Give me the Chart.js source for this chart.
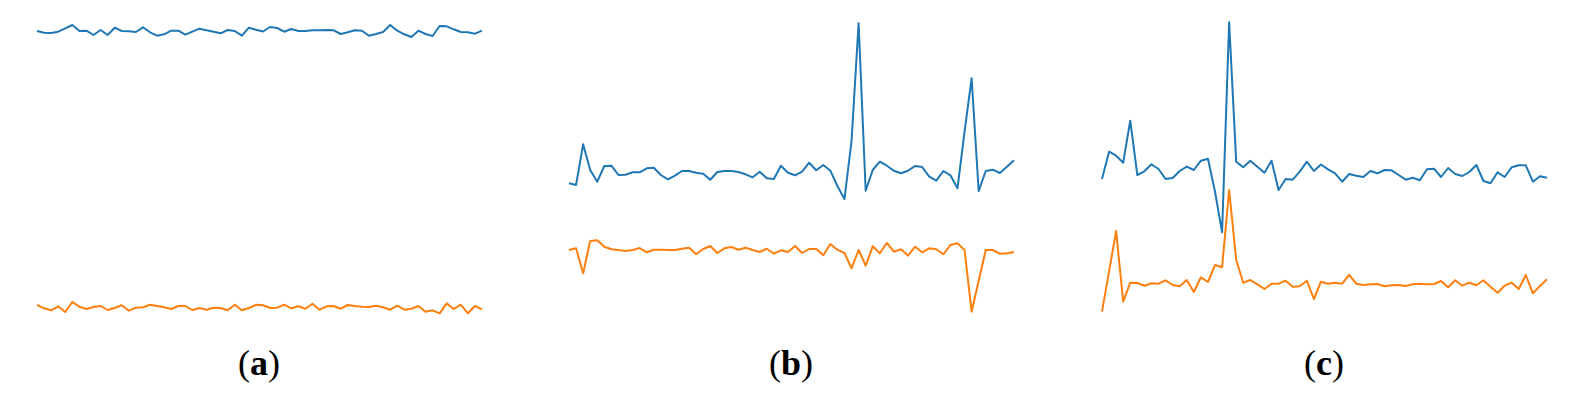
<!DOCTYPE html>
<html>
<head>
<meta charset="utf-8">
<script src="https://cdn.jsdelivr.net/npm/chart.js@4"></script>
<style>
  html, body { margin: 0; padding: 0; background: #fff; }
  body { width: 1579px; height: 407px; position: relative; overflow: hidden; }
  canvas { position: absolute; top: 0; }
  .cap {
    position: absolute;
    top: 345px;
    width: 200px;
    text-align: center;
    font-family: "Liberation Serif", "DejaVu Serif", serif;
    font-size: 36px;
    line-height: 36px;
    color: #000;
  }
  .cap b { font-weight: bold; }
</style>
</head>
<body>
<canvas id="chartA" width="465" height="340" style="left:27px"></canvas>
<canvas id="chartB" width="465" height="340" style="left:559px"></canvas>
<canvas id="chartC" width="465" height="340" style="left:1092px"></canvas>
<div class="cap" style="left:159px">(<b>a</b>)</div>
<div class="cap" style="left:691px">(<b>b</b>)</div>
<div class="cap" style="left:1224px">(<b>c</b>)</div>

<script>
// ---------- données ----------
const samples = Array.from({ length: 64 }, (_, i) => i);

const aBlue = [289, 287.3, 287, 288.3, 291.7, 295, 289, 289.3, 285, 290, 285, 292.3, 289, 288.7, 288, 292.7,
  287.7, 284.3, 285.7, 289.3, 289.3, 285.3, 288.3, 291.3, 289.7, 288.3, 286.7, 290, 289, 284.3, 292.3, 290.3,
  288.5, 293, 292, 288.3, 291, 289, 289, 289.7, 289.7, 290, 289.7, 286, 287.7, 289.7, 289.3, 284.3,
  286, 288, 295, 289.3, 285.7, 283, 289.3, 286, 284, 294, 293.7, 290.7, 288, 287.7, 286.3, 289.3];
const aOrange = [15, 11.7, 9.7, 13.7, 8, 18, 13.3, 11, 13, 14, 10, 12, 14.7, 9.3, 12.3, 12.7,
  15.3, 14, 12.7, 11, 14, 14, 10, 12, 10.3, 12.3, 12, 9.7, 15.3, 9.7, 12, 15.2,
  14.7, 12, 12.3, 15.3, 11.7, 13.7, 11.3, 16.3, 10.3, 13.7, 14, 11.3, 15, 14, 13.3, 13,
  14.3, 12.7, 10.3, 14.3, 10.3, 11.3, 14, 8.3, 9.7, 6.7, 16.7, 11, 15.3, 6.7, 14, 10.7];

const bBlue = [136.7, 135, 175.7, 150, 138.3, 154, 154.3, 145, 145.3, 147.7, 147.7, 151.7, 152.3, 145, 140.7, 144.3,
  149, 149, 147.3, 146.3, 140.3, 148, 149, 149, 148, 145.7, 142.7, 148.3, 141.7, 141, 154.3, 147.3,
  144.7, 148.3, 157.3, 149.7, 155, 149.3, 134, 121, 179, 296.7, 129.3, 150, 158.3, 154.3, 149.3, 146.7,
  149.3, 154, 153, 143.3, 139.3, 149, 144.7, 131.7, 188.3, 241.7, 129, 149, 150.3, 147, 153.3, 159.7];
const bOrange = [70, 71.7, 46.7, 79, 79.7, 73.3, 70.7, 70, 69, 70, 72, 67.7, 70.3, 70.3, 70, 70,
  71.3, 72.3, 65.7, 71, 74, 67, 71.7, 73, 70.3, 72.3, 70, 68, 71.3, 66.3, 69.7, 68,
  74, 67, 71, 71, 64.7, 76, 70.3, 67, 51.7, 70, 54.3, 73.7, 66.7, 77, 68.3, 70.7,
  64.3, 73.3, 67.7, 71.7, 70.7, 65.7, 75, 76.7, 70, 8.3, 39.3, 70, 70, 66.3, 66.7, 68];

const cBlue = [141, 168.3, 164.3, 157.3, 199.3, 145, 148.7, 155.7, 151, 141, 142, 149, 153.3, 150, 159.3, 161.3,
  128.3, 87.7, 297.7, 158.3, 152.7, 159.3, 153.3, 147.3, 159.3, 130, 141, 140.3, 148.3, 158.3, 149, 155.5,
  150.7, 146.7, 138.3, 146, 144.3, 143, 149, 146.7, 150, 149.7, 145, 140.3, 142.3, 139.7, 150.7, 151.3,
  143, 152, 146, 144, 148, 155, 139, 136.7, 147.7, 143, 152.7, 154.7, 154.7, 138.3, 143.7, 142.3];
const cOrange = [8.3, 48.7, 89, 18.3, 37.3, 37, 34.3, 36.7, 36.3, 39.7, 35, 33.7, 40, 28, 42.7, 38,
  55, 52.7, 130, 60, 37.3, 40, 35.7, 31, 36.3, 36.3, 39.3, 33.3, 33.7, 39.3, 21, 38.3,
  36.3, 37.3, 36.3, 45, 36.3, 35, 35.7, 36, 33.7, 34.7, 35, 34, 35.7, 36.3, 35.7, 36,
  39, 32.7, 39.7, 34.3, 37.3, 34.7, 39.7, 33.3, 27.3, 34.3, 37.3, 31, 45, 26.7, 34, 40.7];

const BLUE = "#1f77b4";
const ORANGE = "#ff7f0e";

// ---------- graphiques ----------
function makeDataset(values, color) {
  return {
    data: values,
    borderColor: color,
    borderWidth: 2,
    borderJoinStyle: "round",
    pointRadius: 0,
    tension: 0,
    fill: false
  };
}

function createPanel(id, blue, orange) {
  return new Chart(document.getElementById(id), {
    type: "line",
    data: {
      labels: samples,
      datasets: [makeDataset(blue, BLUE), makeDataset(orange, ORANGE)]
    },
    options: {
      responsive: false,
      animation: false,
      layout: { padding: { left: 10, right: 10, top: 20, bottom: 20 } },
      plugins: {
        legend: { display: false },
        tooltip: { enabled: false }
      },
      scales: {
        x: { display: false },
        y: { display: false, min: 0, max: 300 }
      }
    }
  });
}

createPanel("chartA", aBlue, aOrange);
createPanel("chartB", bBlue, bOrange);
createPanel("chartC", cBlue, cOrange);
</script>
</body>
</html>
